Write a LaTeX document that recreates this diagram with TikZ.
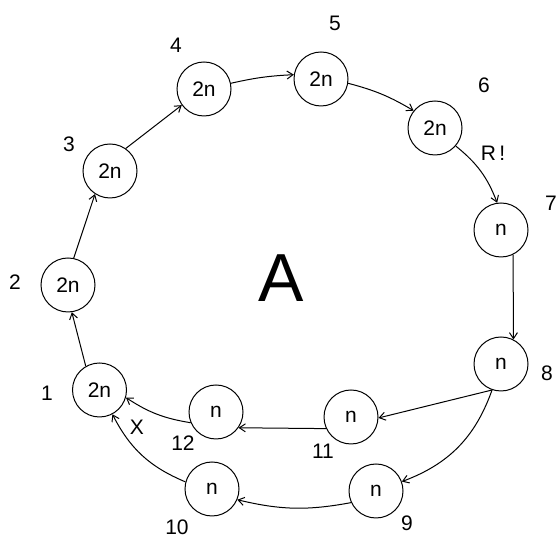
\documentclass[tikz,border=0pt]{standalone}
\usepackage{fontspec}
\setmainfont{Liberation Sans}
\usetikzlibrary{arrows.meta}
\begin{document}
\begin{tikzpicture}[x=1pt,y=1pt,
  state/.style={circle,draw,line width=1pt,minimum size=54pt,inner sep=0pt,font=\fontsize{21}{24}\selectfont},
  lbl/.style={inner sep=0pt,font=\fontsize{21}{24}\selectfont},
  link/.style={line width=1pt,-{Straight Barb[length=6pt,width=8pt]}}]
\useasboundingbox[fill=white] (0,0) rectangle (557,540);
% states
\node[state] (n1) at (99.5,150) {2n};
\node[state] (n2) at (68,255) {2n};
\node[state] (n3) at (110,369) {2n};
\node[state] (n4) at (204,451) {2n};
\node[state] (n5) at (321,461) {2n};
\node[state] (n6) at (435,412) {2n};
\node[state] (n7) at (501,310) {n};
\node[state] (n8) at (501,176) {n};
\node[state] (n9) at (376,49) {n};
\node[state] (n10) at (212,51) {n};
\node[state] (n11) at (351,123) {n};
\node[state] (n12) at (216,128) {n};
% labels
\node[lbl] (l1) at (47,147) {1};
\node[lbl] (l2) at (15,258) {2};
\node[lbl] (l3) at (69,396) {3};
\node[lbl] (l4) at (176,495) {4};
\node[lbl] (l5) at (335,517) {5};
\node[lbl] (l6) at (484,455) {6};
\node[lbl] (l7) at (551,337) {7};
\node[lbl] (l8) at (547,167) {8};
\node[lbl] (l9) at (407,17) {9};
\node[lbl] (l10) at (177,13) {10};
\node[lbl] (l11) at (323,89) {11};
\node[lbl] (l12) at (183,97) {12};
\node[lbl] (lx) at (137,113) {X};
\node[lbl] (lr) at (493,387) {R\,!};
\node[inner sep=0pt,font=\fontsize{68}{70}\selectfont] (la) at (281,262) {A};
% connectors
\draw[link] (n1.120) -- (n2.-82);
\draw[link] (n2.78) -- (n3.237);
\draw[link] (n3.55) -- (n4.216);
\draw[link] (n4.12) to[bend left=5] (n5.171);
\draw[link] (n5.-9) to[bend left=8] (n6.141);
\draw[link] (n6.-41) to[bend left=15] (n7.98);
\draw[link] (n7.-64) -- (n8.63);
\draw[link] (n8.251) -- (n11.-2);
\draw[link] (n8.251) to[bend left=25] (n9.20);
\draw[link] (n11.205) -- (n12.-35);
\draw[link] (n12.203) to[bend left=12] (n1.-16);
\draw[link] (n9.205) to[bend left=12] (n10.-23);
\draw[link] (n10.165) to[bend left=20] (n1.-62);
\end{tikzpicture}
\end{document}
